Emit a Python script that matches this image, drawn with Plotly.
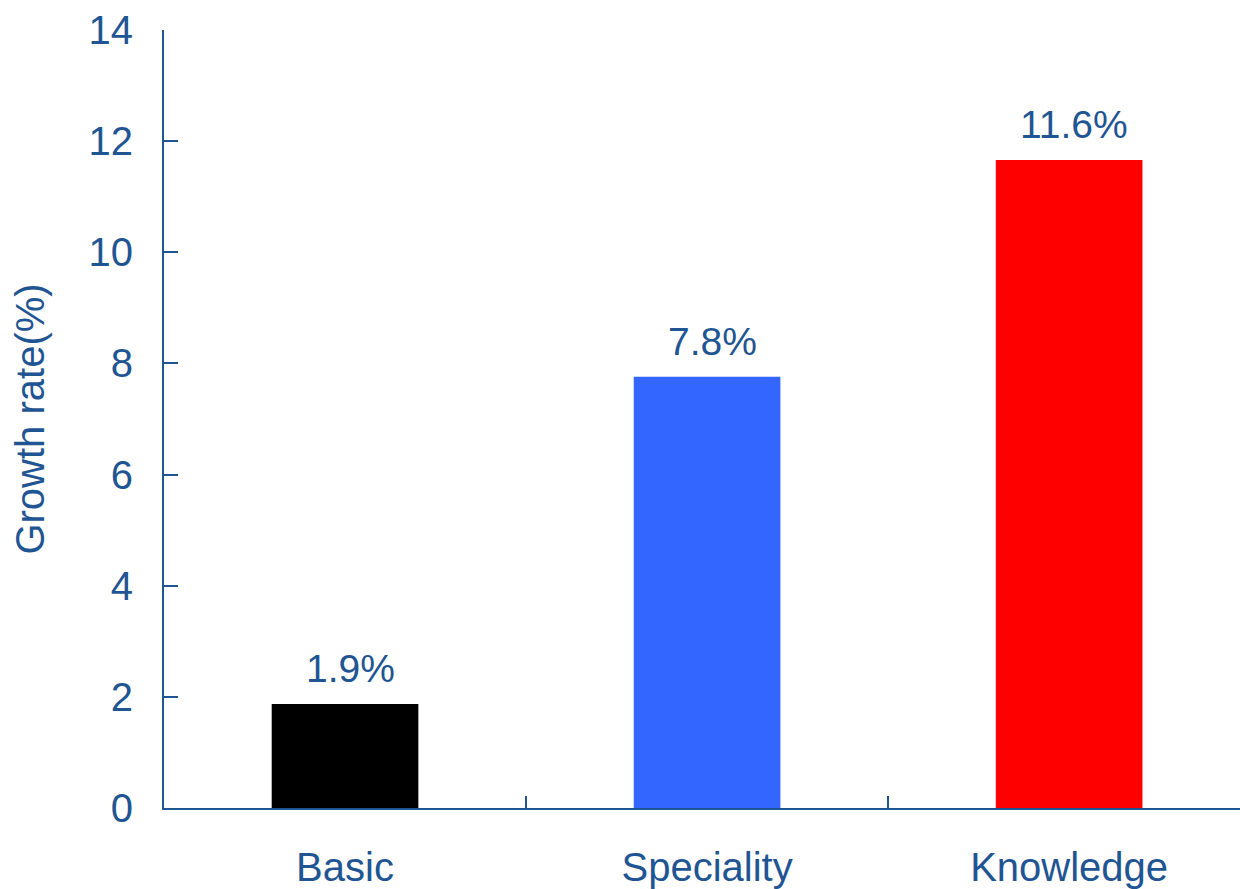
import plotly.graph_objects as go

categories = ["Basic", "Speciality", "Knowledge"]
growth_rates = [1.87, 7.76, 11.66]
bar_labels = ["1.9%", "7.8%", "11.6%"]
bar_colors = ["#000000", "#3366FF", "#FF0000"]
y_ticks = [0, 2, 4, 6, 8, 10, 12, 14]

TXT = "#1F5593"
FONT = "Liberation Sans, Arial, sans-serif"

fig = go.Figure()
fig.add_trace(go.Bar(
    x=categories, y=growth_rates, marker=dict(color=bar_colors, line=dict(width=0)),
    width=0.405, showlegend=False, hoverinfo="skip",
))
for c, v, t in zip(categories, growth_rates, bar_labels):
    fig.add_annotation(x=c, y=v, text=t, showarrow=False, yanchor="bottom",
                       yshift=12, xshift=5, font=dict(size=39, color=TXT, family=FONT))

fig.update_layout(
    width=1240, height=889,
    margin=dict(l=164, r=0, t=30, b=81, autoexpand=False),
    paper_bgcolor="white", plot_bgcolor="white",
    font=dict(family=FONT, color=TXT, size=39),
    xaxis=dict(
        range=[-0.5, 2.472], showgrid=False, zeroline=False, automargin=False,
        showline=True, linecolor=TXT, linewidth=2,
        ticks="inside", tickson="boundaries", ticklen=12, tickwidth=2, tickcolor=TXT,
        tickfont=dict(size=40, color=TXT, family=FONT), ticklabelstandoff=23,
    ),
    yaxis=dict(
        range=[0, 14], tickmode="array", tickvals=y_ticks, showgrid=False, zeroline=False,
        automargin=False, showline=True, linecolor=TXT, linewidth=2,
        ticks="inside", ticklen=14, tickwidth=2, tickcolor=TXT,
        tickfont=dict(size=40, color=TXT, family=FONT), ticklabelstandoff=21,
        title=dict(text="Growth rate(%)", font=dict(size=40, color=TXT, family=FONT), standoff=32),
    ),
)
fig.write_html("out.html")
